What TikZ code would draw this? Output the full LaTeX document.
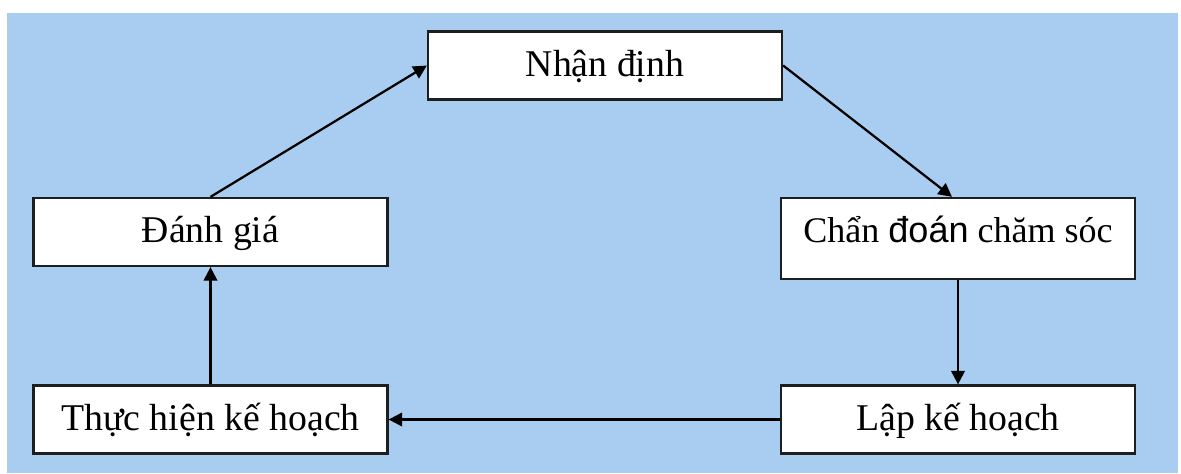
\documentclass[tikz,border=0pt]{standalone}
\usepackage{fontspec}
\setmainfont{Liberation Serif}
\newfontfamily\sansvn{Liberation Sans}
\usetikzlibrary{arrows.meta}
\definecolor{sfondo}{RGB}{169,205,240}
\definecolor{bordo}{RGB}{30,30,30}

\begin{document}
\begin{tikzpicture}[line width=0.045cm, >={Triangle[length=0.27cm,width=0.27cm]}, main/.style = {draw=bordo, fill=white, rectangle, minimum width=7.08cm, inner xsep=0.1cm, inner ysep=0.32cm, text height=0.57cm, text depth=0.15cm, font=\fontsize{21.5}{25}\selectfont}] 
    % Sfondo
    \useasboundingbox (0,0) rectangle (23.62,9.46);
    \fill[sfondo] (0.14,0) rectangle (23.56,9.20);

    % Disegna i nodi
    \node[main] (nd) at (12.10,8.15) {Nhận định};
    \node[main, text depth=0.41cm, font=\fontsize{20.5}{24}\selectfont] (cd) at (19.16,4.69) {Chẩn {\sansvn đoán} chăm sóc};
    \node[main] (lap) at (19.16,1.07) {Lập kế hoạch};
    \node[main] (th) at (4.21,1.07) {Thực hiện kế hoạch};
    \node[main] (dg) at (4.21,4.82) {Đánh giá};

    % Disegna le frecce
    \draw[->] (nd.east) to ([xshift=-0.12cm]cd.north);
    \draw[->] (cd) to (lap);
    \draw[->] (lap) to (th);
    \draw[->] (th) to (dg);
    \draw[->] (dg.north) to (nd.west);

\end{tikzpicture}
\end{document}
